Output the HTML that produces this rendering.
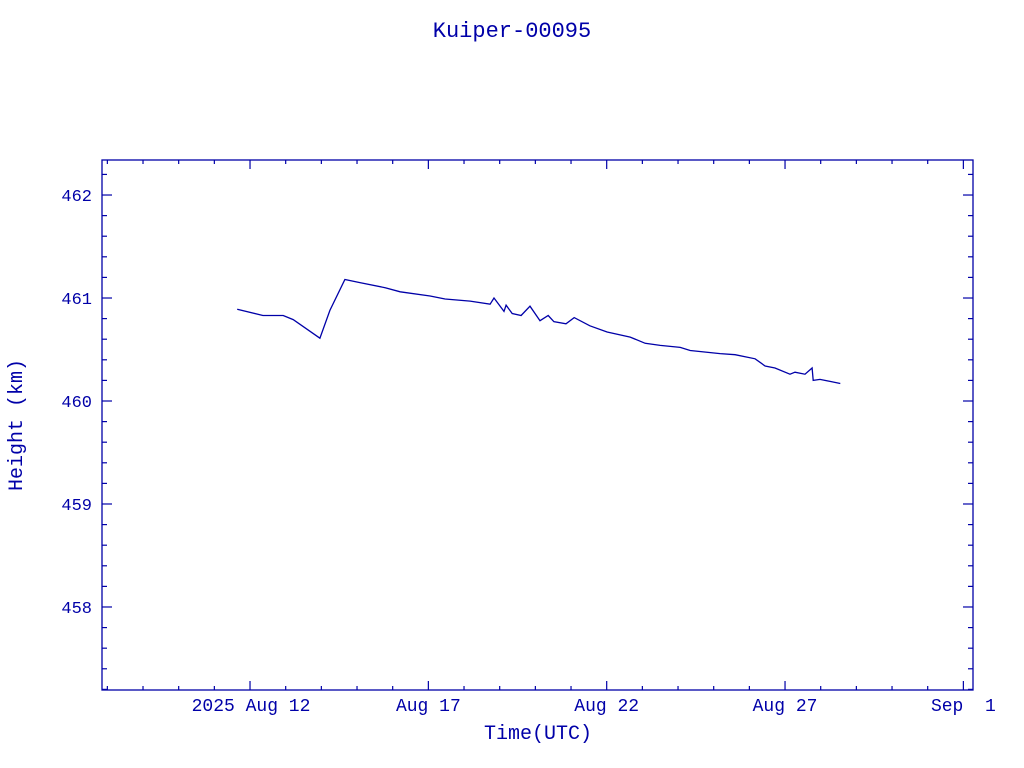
<!DOCTYPE html>
<html><head><meta charset="utf-8"><style>
html,body{margin:0;padding:0;background:#fff;}
svg{display:block;}
text{font-family:"Liberation Mono",monospace;fill:#0000a8;}
</style></head><body>
<svg id="chart" width="1024" height="768" viewBox="0 0 1024 768" xmlns="http://www.w3.org/2000/svg">
<text x="512" y="37" text-anchor="middle" font-size="22">Kuiper-00095</text>
<rect x="102" y="160" width="871" height="530" fill="none" stroke="#0000a8" stroke-width="1.3"/>
<g id="ticks"></g>
<path id="series" fill="none" stroke="#0000a8" stroke-width="1.3"/>
<text x="538" y="739" text-anchor="middle" font-size="20">Time(UTC)</text>
<text transform="translate(22,425) rotate(-90)" text-anchor="middle" font-size="20">Height (km)</text>
</svg>
<script>
// days are day-of-August 2025 (fractional)
const days = [11.64,12.36,12.93,13.21,13.96,14.24,14.66,15.08,15.79,16.21,17.05,17.47,18.17,18.73,18.84,19.12,19.18,19.35,19.60,19.85,20.13,20.36,20.52,20.86,21.09,21.53,22.01,22.66,23.08,23.50,24.06,24.34,25.18,25.60,26.16,26.44,26.72,27.14,27.28,27.56,27.76,27.79,27.98,28.26,28.55];
const heights = [460.89,460.83,460.83,460.79,460.61,460.88,461.18,461.15,461.10,461.06,461.02,460.99,460.97,460.94,461.00,460.87,460.93,460.85,460.83,460.92,460.78,460.83,460.77,460.75,460.81,460.73,460.67,460.62,460.56,460.54,460.52,460.49,460.46,460.45,460.41,460.34,460.32,460.26,460.28,460.26,460.32,460.20,460.21,460.19,460.17];
const yTicks = [458,459,460,461,462];
const xTickDays = [12,17,22,27,32];
const xTickLabels = ["2025 Aug 12","Aug 17","Aug 22","Aug 27","Sep  1"];

const X0=102,X1=973,Y0=160,Y1=690;
const dMin=7.85,dMax=32.27,hMin=457.194,hMax=462.34;
const xs=d=>X0+(d-dMin)/(dMax-dMin)*(X1-X0);
const ys=h=>Y1-(h-hMin)/(hMax-hMin)*(Y1-Y0);
const NS="http://www.w3.org/2000/svg";
const g=document.getElementById('ticks');
function ln(x1,y1,x2,y2){const l=document.createElementNS(NS,'line');
l.setAttribute('x1',x1);l.setAttribute('y1',y1);l.setAttribute('x2',x2);l.setAttribute('y2',y2);
l.setAttribute('stroke','#0000a8');l.setAttribute('stroke-width','1.2');


g.appendChild(l);}
// y minor ticks
for(let v=Math.ceil(hMin*5)/5; v<=hMax; v+=0.2){const y=ys(v);const maj=Math.abs(v-Math.round(v))<0.01;const L=maj?10:5;ln(X0,y,X0+L,y);ln(X1,y,X1-L,y);}
yTicks.forEach(v=>{const t=document.createElementNS(NS,'text');t.setAttribute('x',92);t.setAttribute('y',ys(v)+6);t.setAttribute('text-anchor','end');t.setAttribute('font-size','17');t.textContent=String(v);


g.appendChild(t);});
for(let d=Math.ceil(dMin); d<=dMax; d++){const x=xs(d);const maj=xTickDays.includes(d);const L=maj?9:4;ln(x,Y1,x,Y1-L);ln(x,Y0,x,Y0+L);}
xTickDays.forEach((d,i)=>{const t=document.createElementNS(NS,'text');t.setAttribute('x',xs(d)+(i==0?1:0));t.setAttribute('y',711);t.setAttribute('text-anchor','middle');t.setAttribute('font-size','18');t.setAttribute('xml:space','preserve');t.style.whiteSpace='pre';t.textContent=xTickLabels[i];


g.appendChild(t);});
document.getElementById('series').setAttribute('d',days.map((d,i)=>(i?'L':'M')+xs(d).toFixed(1)+' '+ys(heights[i]).toFixed(1)).join(' '));
</script>
</body></html>
